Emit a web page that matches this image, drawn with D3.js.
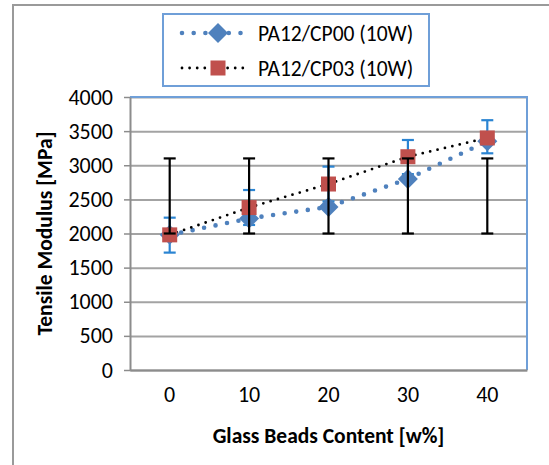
<!DOCTYPE html>
<html>
<head>
<meta charset="utf-8">
<script src="https://cdn.jsdelivr.net/npm/d3@7"></script>
<style>
  body { margin: 0; background: #fff; }
  svg { display: block; font-family: Carlito, Calibri, Lato, sans-serif; }
</style>
</head>
<body>
<div id="chart"></div>
<script>
const CATEGORIES = ["0", "10", "20", "30", "40"];
const Y_TICKS = [0, 500, 1000, 1500, 2000, 2500, 3000, 3500, 4000];

const CP00 = [1980, 2220, 2390, 2800, 3350];
const CP03 = [1980, 2380, 2725, 3125, 3400];

const BLUE_ERR_LOW = [1720, 2125, 2470, 2870, 3175];
const BLUE_ERR_HIGH = [2232, 2637, 2980, 3370, 3660];
const BLACK_ERR_LOW = [2000, 2000, 2000, 2000, 2000];
const BLACK_ERR_HIGH = [3100, 3100, 3100, 3100, 3100];

const SERIES_NAMES = ["PA12/CP00 (10W)", "PA12/CP03 (10W)"];

const WIDTH = 549;
const HEIGHT = 465;
const LEFT = 130, RIGHT = 527, TOP = 97, BOTTOM = 370;
const FONT = "Carlito, Calibri, Lato, sans-serif";

const BLUE = "#4f81bd";
const RED = "#c0504d";
const ERR_BLUE = "#2a84d2";
const FRAME_BLUE = "#6f9fd8";
const GRID = "#a3a3a3";

const svg = d3.select("#chart").append("svg")
    .attr("width", WIDTH)
    .attr("height", HEIGHT);

// chart border (only top and left fall inside the picture)
svg.append("path")
    .attr("d", `M13,${HEIGHT + 2}V5H${WIDTH + 2}`)
    .attr("fill", "none")
    .attr("stroke", "#9a9a9a")
    .attr("stroke-width", 2);

const x = d3.scaleBand()
    .domain(CATEGORIES)
    .range([LEFT, RIGHT])
    .padding(0);

const cx = c => x(c) + x.bandwidth() / 2;

const y = d3.scaleLinear()
    .domain([0, 4000])
    .range([BOTTOM, TOP]);

// gridlines
svg.append("g")
    .attr("transform", `translate(${LEFT},0)`)
    .call(d3.axisLeft(y).tickValues(Y_TICKS).tickSize(-(RIGHT - LEFT)).tickFormat(""))
    .call(g => g.select(".domain").remove())
    .call(g => g.selectAll("line").attr("stroke", GRID).attr("stroke-width", 2));

// plot frame, top and right
svg.append("path")
    .attr("d", `M${LEFT},${TOP}H${RIGHT}V${BOTTOM}`)
    .attr("fill", "none")
    .attr("stroke", FRAME_BLUE)
    .attr("stroke-width", 2);

// y axis
svg.append("g")
    .attr("transform", `translate(${LEFT},0)`)
    .call(d3.axisLeft(y).tickValues(Y_TICKS).tickFormat(d3.format("d"))
        .tickSize(6).tickPadding(11).tickSizeOuter(0))
    .call(g => g.select(".domain").attr("stroke", "#8c8c8c").attr("stroke-width", 2))
    .call(g => g.selectAll(".tick line").attr("stroke", "#8c8c8c").attr("stroke-width", 1.5))
    .call(g => g.selectAll("text").attr("font-size", 22).attr("fill", "#000")
        .attr("font-family", FONT));

// x axis
svg.append("g")
    .attr("transform", `translate(0,${BOTTOM})`)
    .call(d3.axisBottom(x).tickSize(0).tickPadding(16))
    .call(g => g.select(".domain").attr("stroke", "#8c8c8c").attr("stroke-width", 2))
    .call(g => g.selectAll("text").attr("font-size", 22).attr("fill", "#000")
        .attr("font-family", FONT));

// axis titles
svg.append("text")
    .attr("transform", `translate(52,${(TOP + BOTTOM) / 2}) rotate(-90)`)
    .attr("text-anchor", "middle")
    .attr("font-size", 21.5)
    .attr("font-weight", "bold")
    .text("Tensile Modulus [MPa]");

svg.append("text")
    .attr("x", (LEFT + RIGHT) / 2)
    .attr("y", 443)
    .attr("text-anchor", "middle")
    .attr("font-size", 21.5)
    .attr("font-weight", "bold")
    .text("Glass Beads Content [w%]");

const line = d3.line()
    .x((d, i) => cx(CATEGORIES[i]))
    .y(d => y(d));

const blueDots = { width: 4.6, dash: "0 11.7" };
const blackDots = { width: 2.8, dash: "0 7.6" };

function errorBars(lo, hi, color, cap) {
  const g = svg.append("g").attr("stroke", color).attr("stroke-width", 2.2);
  g.selectAll("line.v")
    .data(CATEGORIES)
    .enter().append("line")
      .attr("x1", cx).attr("x2", cx)
      .attr("y1", (d, i) => y(lo[i]))
      .attr("y2", (d, i) => y(hi[i]));
  [lo, hi].forEach(arr => {
    g.selectAll(null)
      .data(CATEGORIES)
      .enter().append("line")
        .attr("x1", d => cx(d) - cap / 2)
        .attr("x2", d => cx(d) + cap / 2)
        .attr("y1", (d, i) => y(arr[i]))
        .attr("y2", (d, i) => y(arr[i]));
  });
}

// blue error bars sit under the markers
errorBars(BLUE_ERR_LOW, BLUE_ERR_HIGH, ERR_BLUE, 12);

svg.append("path")
    .datum(CP00)
    .attr("d", line)
    .attr("fill", "none")
    .attr("stroke", BLUE)
    .attr("stroke-width", blueDots.width)
    .attr("stroke-linecap", "round")
    .attr("stroke-dasharray", blueDots.dash);

svg.append("path")
    .datum(CP03)
    .attr("d", line)
    .attr("fill", "none")
    .attr("stroke", "#000")
    .attr("stroke-width", blackDots.width)
    .attr("stroke-linecap", "round")
    .attr("stroke-dasharray", blackDots.dash);

const diamond = d3.symbol().type(d3.symbolSquare).size(200);

svg.selectAll("path.cp00")
  .data(CP00)
  .enter().append("path")
    .attr("class", "cp00")
    .attr("d", diamond)
    .attr("transform", (d, i) => `translate(${cx(CATEGORIES[i])},${y(d)}) rotate(45)`)
    .attr("fill", BLUE);

const SQ = 15;
svg.selectAll("rect.cp03")
  .data(CP03)
  .enter().append("rect")
    .attr("class", "cp03")
    .attr("x", (d, i) => cx(CATEGORIES[i]) - SQ / 2)
    .attr("y", d => y(d) - SQ / 2)
    .attr("width", SQ)
    .attr("height", SQ)
    .attr("fill", RED);

// black error bars on top
errorBars(BLACK_ERR_LOW, BLACK_ERR_HIGH, "#000", 12);

// legend
const legend = svg.append("g");
legend.append("rect")
    .attr("x", 163).attr("y", 14)
    .attr("width", 266).attr("height", 72)
    .attr("fill", "#fff")
    .attr("stroke", FRAME_BLUE)
    .attr("stroke-width", 2);

const rows = [
  { name: SERIES_NAMES[0], color: BLUE, dots: blueDots, y: 33 },
  { name: SERIES_NAMES[1], color: "#000", dots: blackDots, y: 68 }
];

rows.forEach((r, i) => {
  legend.append("line")
      .attr("x1", 182).attr("x2", 248)
      .attr("y1", r.y).attr("y2", r.y)
      .attr("stroke", r.color)
      .attr("stroke-width", r.dots.width)
      .attr("stroke-linecap", "round")
      .attr("stroke-dasharray", r.dots.dash);
  if (i === 0) {
    legend.append("path")
        .attr("d", diamond)
        .attr("transform", `translate(218,${r.y}) rotate(45)`)
        .attr("fill", BLUE);
  } else {
    legend.append("rect")
        .attr("x", 218 - SQ / 2).attr("y", r.y - SQ / 2)
        .attr("width", SQ).attr("height", SQ)
        .attr("fill", RED);
  }
  legend.append("text")
      .attr("x", 258)
      .attr("y", r.y)
      .attr("dy", "0.35em")
      .attr("font-size", 21.5)
      .text(r.name);
});
</script>
</body>
</html>
